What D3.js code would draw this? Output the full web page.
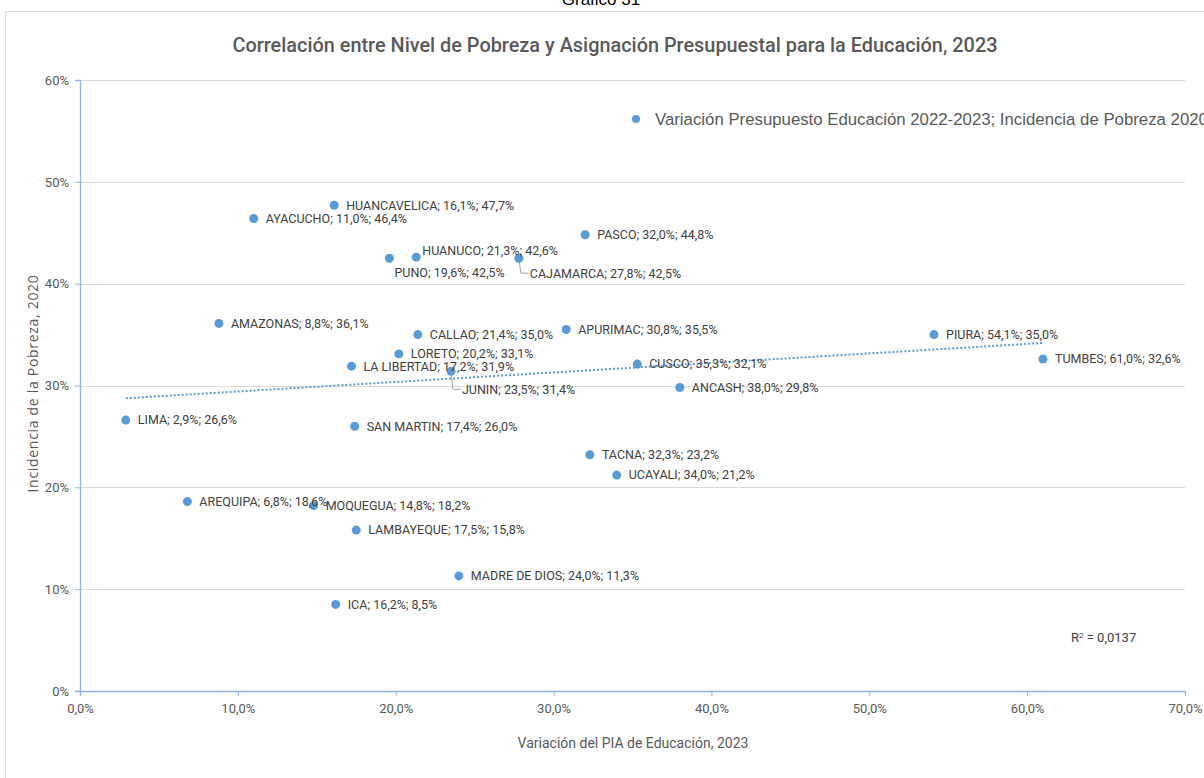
<!DOCTYPE html>
<html>
<head>
<meta charset="utf-8">
<script src="https://cdn.jsdelivr.net/npm/d3@7"></script>
<style>
  body { margin: 0; background: #fff; }
  svg { display: block; }
  .narrow { font-family: Roboto, "Liberation Sans", sans-serif; }
</style>
</head>
<body>
<script>
// regiones, variacion del PIA de educacion 2023 (%) e incidencia de pobreza 2020 (%)
var regiones = ['HUANCAVELICA', 'AYACUCHO', 'HUANUCO', 'PUNO', 'CAJAMARCA', 'PASCO',
  'AMAZONAS', 'CALLAO', 'APURIMAC', 'PIURA', 'LORETO', 'LA LIBERTAD', 'JUNIN', 'CUSCO',
  'TUMBES', 'ANCASH', 'LIMA', 'SAN MARTIN', 'TACNA', 'UCAYALI', 'AREQUIPA', 'MOQUEGUA',
  'LAMBAYEQUE', 'MADRE DE DIOS', 'ICA'];
var variacionPIA = [16.1, 11.0, 21.3, 19.6, 27.8, 32.0, 8.8, 21.4, 30.8, 54.1, 20.2, 17.2,
  23.5, 35.3, 61.0, 38.0, 2.9, 17.4, 32.3, 34.0, 6.8, 14.8, 17.5, 24.0, 16.2];
var pobreza = [47.7, 46.4, 42.6, 42.5, 42.5, 44.8, 36.1, 35.0, 35.5, 35.0, 33.1, 31.9,
  31.4, 32.1, 32.6, 29.8, 26.6, 26.0, 23.2, 21.2, 18.6, 18.2, 15.8, 11.3, 8.5];
var xTicks = [0, 10, 20, 30, 40, 50, 60, 70];
var yTicks = [0, 10, 20, 30, 40, 50, 60];
var r2Texto = '0,0137';

// etiquetas que no van a la derecha del punto
var etiquetaPos = {
  'HUANUCO': { dx: 6, dy: -7 },
  'PUNO': { dx: 5, dy: 14 },
  'CAJAMARCA': { dx: 11, dy: 15, guia: true },
  'JUNIN': { dx: 11, dy: 18, guia: true }
};

var W = 1204, H = 778;
var margin = { top: 80, right: 19, bottom: 87, left: 80 },
  width = W - margin.left - margin.right,
  height = H - margin.top - margin.bottom;

var svg = d3.select('body').append('svg')
  .attr('width', W)
  .attr('height', H);

svg.append('text')
  .attr('x', 601).attr('y', 5)
  .attr('text-anchor', 'middle')
  .style('font-family', 'Arial, "Liberation Sans", sans-serif')
  .style('font-size', '17px')
  .attr('fill', '#000')
  .text('Gráfico 31');

svg.append('rect')
  .attr('x', 5.5).attr('y', 11.5)
  .attr('width', 1300).attr('height', 900)
  .attr('fill', 'none')
  .attr('stroke', '#d9d9d9');

svg.append('text')
  .attr('class', 'narrow')
  .attr('x', 615).attr('y', 52)
  .attr('text-anchor', 'middle')
  .attr('textLength', 765)
  .attr('lengthAdjust', 'spacingAndGlyphs')
  .style('font-size', '21px')
  .style('font-weight', '500')
  .attr('fill', '#595959')
  .text('Correlación entre Nivel de Pobreza y Asignación Presupuestal para la Educación, 2023');

var g = svg.append('g').attr('transform', 'translate(' + margin.left + ',' + margin.top + ')');

var x = d3.scaleLinear().domain([0, 70]).range([0, width]);
var y = d3.scaleLinear().domain([0, 60]).range([height, 0]);
var fmt = function(v) { return v.toFixed(1).replace('.', ',') + '%'; };

// rejilla
g.append('g')
  .selectAll('line')
  .data(yTicks.filter(function(d) { return d > 0; }))
  .enter().append('line')
  .attr('x1', 0).attr('x2', width)
  .attr('y1', function(d) { return Math.round(y(d)) + 0.5; })
  .attr('y2', function(d) { return Math.round(y(d)) + 0.5; })
  .attr('stroke', '#d9d9d9');

var xAxis = g.append('g')
  .attr('transform', 'translate(0,' + height + ')')
  .call(d3.axisBottom(x).tickValues(xTicks).tickSize(5).tickPadding(8)
    .tickFormat(function(d) { return d.toFixed(1).replace('.', ',') + '%'; }));
var yAxis = g.append('g')
  .call(d3.axisLeft(y).tickValues(yTicks).tickSize(5).tickPadding(6)
    .tickFormat(function(d) { return d + '%'; }));

[xAxis, yAxis].forEach(function(a) {
  a.select('.domain').attr('stroke', '#8db3e2').attr('stroke-width', 1.3);
  a.selectAll('.tick line').attr('stroke', '#8db3e2');
  a.selectAll('.tick text')
    .attr('class', 'narrow')
    .style('font-size', '13px')
    .attr('fill', '#595959');
});

// titulos de ejes
g.append('text')
  .attr('class', 'narrow')
  .attr('x', 553).attr('y', height + 57)
  .attr('text-anchor', 'middle')
  .style('font-size', '14px')
  .attr('fill', '#595959')
  .text('Variación del PIA de Educación, 2023');

g.append('text')
  .attr('transform', 'rotate(-90)')
  .attr('x', -height / 2 + 2).attr('y', -42)
  .attr('text-anchor', 'middle')
  .style('font-family', '"Open Sans", "Noto Sans", sans-serif')
  .style('font-size', '14px')
  .style('letter-spacing', '0.7px')
  .attr('fill', '#595959')
  .text('Incidencia de la Pobreza, 2020');

// linea de tendencia (minimos cuadrados)
var n = variacionPIA.length;
var mx = d3.mean(variacionPIA), my = d3.mean(pobreza);
var sxy = 0, sxx = 0;
for (var i = 0; i < n; i++) {
  sxy += (variacionPIA[i] - mx) * (pobreza[i] - my);
  sxx += (variacionPIA[i] - mx) * (variacionPIA[i] - mx);
}
var b = sxy / sxx, a0 = my - b * mx;
var xr = d3.extent(variacionPIA);
g.append('line')
  .attr('x1', x(xr[0])).attr('y1', y(a0 + b * xr[0]))
  .attr('x2', x(xr[1])).attr('y2', y(a0 + b * xr[1]))
  .attr('stroke', '#5b9bd5')
  .attr('stroke-width', 2)
  .attr('stroke-dasharray', '2,2');

var data = regiones.map(function(d, i) { return { name: d, x: variacionPIA[i], y: pobreza[i] }; });

// lineas guia
data.filter(function(d) { return etiquetaPos[d.name] && etiquetaPos[d.name].guia; })
  .forEach(function(d) {
    var p = etiquetaPos[d.name], cx = x(d.x), cy = y(d.y);
    g.append('path')
      .attr('d', 'M' + cx + ',' + cy + 'L' + (cx + 2) + ',' + (cy + p.dy) + 'L' + (cx + p.dx - 1) + ',' + (cy + p.dy))
      .attr('fill', 'none')
      .attr('stroke', '#a6a6a6');
  });

g.selectAll('circle.pt')
  .data(data)
  .enter().append('circle')
  .attr('class', 'pt')
  .attr('cx', function(d) { return x(d.x); })
  .attr('cy', function(d) { return y(d.y); })
  .attr('r', 4.5)
  .attr('fill', '#5b9bd5');

g.selectAll('text.lbl')
  .data(data)
  .enter().append('text')
  .attr('class', 'lbl narrow')
  .attr('x', function(d) { return x(d.x) + (etiquetaPos[d.name] ? etiquetaPos[d.name].dx : 12); })
  .attr('y', function(d) { return y(d.y) + (etiquetaPos[d.name] ? etiquetaPos[d.name].dy : 0); })
  .attr('dy', '0.35em')
  .style('font-size', '12.5px')
  .attr('fill', '#404040')
  .text(function(d) { return d.name + '; ' + fmt(d.x) + '; ' + fmt(d.y); });

// R2
var r2 = g.append('text')
  .attr('class', 'narrow')
  .attr('x', 991).attr('y', 562)
  .style('font-size', '13px')
  .attr('fill', '#404040');
r2.append('tspan').text('R');
r2.append('tspan').attr('baseline-shift', 'super').style('font-size', '8px').text('2');
r2.append('tspan').text(' = ' + r2Texto);

// leyenda
var leg = svg.append('g').attr('transform', 'translate(636,119)');
leg.append('circle').attr('r', 4).attr('fill', '#5b9bd5');
leg.append('text')
  .attr('x', 19).attr('dy', '0.35em')
  .style('font-family', '"Liberation Sans", Arial, sans-serif')
  .style('font-size', '16.8px')
  .attr('fill', '#595959')
  .text('Variación Presupuesto Educación 2022-2023; Incidencia de Pobreza 2020');
</script>
</body>
</html>
